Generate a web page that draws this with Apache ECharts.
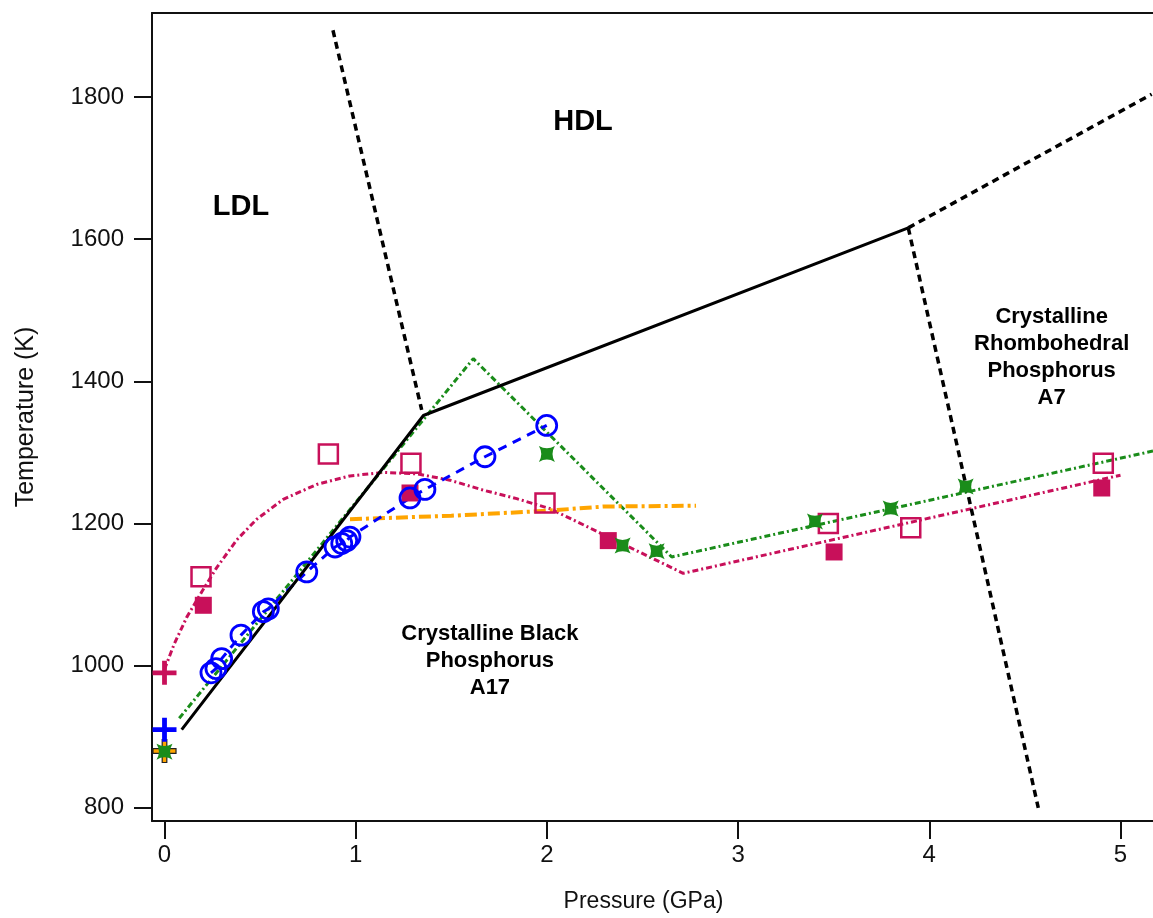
<!DOCTYPE html>
<html>
<head>
<meta charset="utf-8">
<script src="https://cdn.jsdelivr.net/npm/echarts@6/dist/echarts.min.js"></script>
<style>
html,body{margin:0;padding:0;background:#fff;}
#chart{width:1153px;height:918px;}
</style>
</head>
<body>
<div id="chart"></div>
<script>
// ---- Data (pressure GPa, temperature K) ----
const xTickValues = [0, 1, 2, 3, 4, 5];
const yTickValues = [800, 1000, 1200, 1400, 1600, 1800];

const ldlHdlBoundary = [[0.881, 1894], [1.345, 1360]];
const meltingLine = [[0.09, 910], [1.354, 1352], [3.890, 1616]];
const hdlA7Boundary = [[3.890, 1616], [5.163, 1804]];
const a17A7Boundary = [[3.890, 1616], [4.57, 800]];

const greenFit = [[0.077, 926], [1.615, 1432], [2.653, 1153], [5.17, 1302]];
const greenStars = [[0, 879], [2.0, 1298], [2.396, 1169], [2.574, 1161], [3.402, 1203], [3.798, 1221], [4.19, 1252]];

const redCurve = [[0, 995], [0.05, 1030], [0.116, 1068], [0.195, 1104], [0.273, 1138], [0.378, 1177],
  [0.482, 1206], [0.621, 1234], [0.796, 1255], [0.97, 1267], [1.144, 1272], [1.319, 1270],
  [1.493, 1261], [1.667, 1247], [1.842, 1235], [2.016, 1221], [2.713, 1130], [5.0, 1268]];
const redOpenSquares = [[0.191, 1125], [0.857, 1298], [1.289, 1285], [1.99, 1229], [3.472, 1200], [3.903, 1194], [4.91, 1285]];
const redFilledSquares = [[0.203, 1085], [1.284, 1243], [2.321, 1176], [3.502, 1160], [4.902, 1250]];

const blueCircles = [[0.243, 990], [0.269, 996], [0.299, 1010], [0.400, 1043], [0.517, 1076], [0.543, 1080],
  [0.744, 1132], [0.892, 1167], [0.927, 1172], [0.953, 1176], [0.970, 1181], [1.284, 1236],
  [1.362, 1248], [1.676, 1294], [1.999, 1338]];

const orangeLine = [[0.97, 1206], [1.5, 1211], [2.0, 1218], [2.3, 1224], [2.78, 1225]];

const redCross = [[0, 990]];
const blueCross = [[0, 910]];
const orangeCross = [[0, 880]];

const regionLabels = ['LDL', 'HDL', 'Crystalline Black\nPhosphorus\nA17', 'Crystalline\nRhombohedral\nPhosphorus\nA7'];

// ---- Styles ----
const FONT = "'Liberation Sans', Arial, Helvetica, sans-serif";
const RED = '#c8105a';
const GREEN = '#1a8c1a';
const BLUE = '#0000ff';
const ORANGE = '#ffa500';
const PLUS = 'path://M-0.1,-0.5 L0.1,-0.5 L0.1,-0.1 L0.5,-0.1 L0.5,0.1 L0.1,0.1 L0.1,0.5 L-0.1,0.5 L-0.1,0.1 L-0.5,0.1 L-0.5,-0.1 L-0.1,-0.1 Z';
const STAR4 = 'path://M0,0 Q10,6 20,0 Q14,10 20,20 Q10,14 0,20 Q6,10 0,0 Z';

function lineSeries(data, color, width, type, z) {
  return {
    type: 'line', data: data, showSymbol: false, symbol: 'none', silent: true, z: z || 2,
    lineStyle: { color: color, width: width, type: type, cap: 'butt', opacity: 1 },
    itemStyle: { color: color, opacity: 1 }
  };
}

function scatterSeries(data, symbol, size, itemStyle, z) {
  itemStyle.opacity = 1;
  return { type: 'scatter', data: data, symbol: symbol, symbolSize: size, silent: true, z: z || 5, itemStyle: itemStyle };
}

const labelStyle = {
  show: true, position: 'inside', color: '#000', fontFamily: FONT, fontWeight: 'bold',
  align: 'center', verticalAlign: 'middle', opacity: 1
};

const chart = echarts.init(document.getElementById('chart'), null, { renderer: 'canvas' });
chart.setOption({
  animation: false,
  backgroundColor: '#fff',
  grid: { left: 152, right: 0, top: 13, bottom: 95, containLabel: false },
  xAxis: [{
    type: 'value', min: -0.0654, max: 5.17, position: 'bottom',
    name: 'Pressure (GPa)', nameLocation: 'middle', nameGap: 69,
    nameTextStyle: { fontFamily: FONT, fontSize: 23, color: '#111', padding: [0, 18, 0, 0] },
    axisLine: { show: true, onZero: false, lineStyle: { color: '#111', width: 2 } },
    axisTick: { show: true, inside: false, length: 18, customValues: xTickValues, lineStyle: { color: '#111', width: 2 } },
    axisLabel: { show: true, margin: 22, customValues: xTickValues, fontFamily: FONT, fontSize: 24, color: '#111',
      formatter: v => String(v) },
    splitLine: { show: false }
  }, {
    type: 'value', min: -0.0654, max: 5.17, position: 'top',
    axisLine: { show: true, onZero: false, lineStyle: { color: '#111', width: 2 } },
    axisTick: { show: false }, axisLabel: { show: false }, splitLine: { show: false }
  }],
  yAxis: {
    type: 'value', min: 781.5, max: 1918.3,
    name: 'Temperature (K)', nameLocation: 'middle', nameGap: 113,
    nameTextStyle: { fontFamily: FONT, fontSize: 25, color: '#111' },
    axisLine: { show: true, onZero: false, lineStyle: { color: '#111', width: 2 } },
    axisTick: { show: true, inside: false, length: 18, customValues: yTickValues, lineStyle: { color: '#111', width: 2 } },
    axisLabel: { show: true, margin: 28, customValues: yTickValues, fontFamily: FONT, fontSize: 24, color: '#111',
      formatter: v => String(v) },
    splitLine: { show: false }
  },
  series: [
    lineSeries(redCurve, RED, 3, [6, 3, 2, 3], 2),
    lineSeries(greenFit, GREEN, 3, [6, 3, 2, 3], 2),
    lineSeries(orangeLine, ORANGE, 4, [12, 4, 3, 4], 2),
    lineSeries(blueCircles, BLUE, 3, [9, 7], 3),
    lineSeries(meltingLine, '#000', 3, 'solid', 4),
    lineSeries(ldlHdlBoundary, '#000', 3.5, [7, 5], 4),
    lineSeries(hdlA7Boundary, '#000', 3.5, [7, 5], 4),
    lineSeries(a17A7Boundary, '#000', 3.5, [7, 5], 4),
    scatterSeries(orangeCross, PLUS, 23, { color: ORANGE, borderColor: '#222', borderWidth: 1.2 }, 5),
    scatterSeries(greenStars, STAR4, 16, { color: GREEN }, 6),
    scatterSeries(redCross, PLUS, 24, { color: RED }, 5),
    scatterSeries(blueCross, PLUS, 24, { color: BLUE }, 5),
    scatterSeries(redOpenSquares, 'rect', 19, { color: 'rgba(0,0,0,0)', borderColor: RED, borderWidth: 2.5 }, 5),
    scatterSeries(redFilledSquares, 'rect', 17, { color: RED }, 5),
    scatterSeries(blueCircles, 'circle', 20, { color: 'rgba(0,0,0,0)', borderColor: BLUE, borderWidth: 2.8 }, 5),
    {
      type: 'scatter', symbol: 'circle', symbolSize: 1, silent: true, z: 10,
      itemStyle: { color: 'rgba(0,0,0,0)', opacity: 1 },
      label: labelStyle,
      data: [
        { name: regionLabels[0], value: [0.40, 1645], label: { fontSize: 29, formatter: '{b}' } },
        { name: regionLabels[1], value: [2.189, 1765], label: { fontSize: 29, formatter: '{b}' } },
        { name: regionLabels[2], value: [1.702, 1007], label: { fontSize: 22, lineHeight: 27, formatter: '{b}' } },
        { name: regionLabels[3], value: [4.64, 1434], label: { fontSize: 22, lineHeight: 27, formatter: '{b}' } }
      ]
    }
  ]
});
</script>
</body>
</html>
